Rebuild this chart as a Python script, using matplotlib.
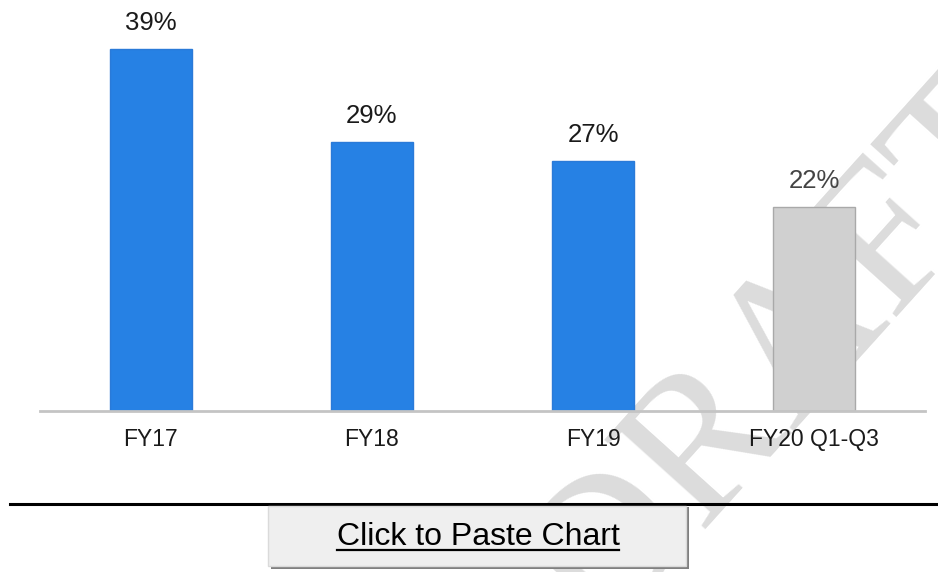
import matplotlib.pyplot as plt
from matplotlib.patches import Rectangle
from matplotlib.lines import Line2D

plt.rcParams["font.family"] = ["Liberation Sans", "DejaVu Sans"]

# 数据
categories = ["FY17", "FY18", "FY19", "FY20 Q1-Q3"]
values = [39, 29, 27, 22]
labels = ["39%", "29%", "27%", "22%"]
bar_colors = ["#2681e4", "#2681e4", "#2681e4", "#d0d0d0"]
edge_colors = ["#2a7ad8", "#2a7ad8", "#2a7ad8", "#a9a9a9"]
label_colors = ["#1a1a1a", "#1a1a1a", "#1a1a1a", "#444444"]

W, H = 938, 572
fig = plt.figure(figsize=(W / 100, H / 100), dpi=100)

# 水印
fig.text(600 / W, 1 - 640 / H, "DRAFT", family="Liberation Serif", fontsize=148,
         color="#dcdcdc", rotation=48, ha="left", va="baseline",
         rotation_mode="anchor", zorder=-1)

ax = fig.add_axes([40 / W, 1 - 411 / H, 885 / W, 411 / H])
ax.patch.set_visible(False)
x = list(range(len(categories)))
bars = ax.bar(x, values, width=0.37, color=bar_colors, edgecolor=edge_colors,
              linewidth=1, zorder=2)
for b, lab, c in zip(bars, labels, label_colors):
    ax.annotate(lab, (b.get_x() + b.get_width() / 2, b.get_height()),
                xytext=(0, 10), textcoords="offset points", ha="center",
                va="bottom", fontsize=18.5, color=c)

ax.set_xlim(-0.5, 3.5)
ax.set_ylim(0, 44.3)
ax.set_xticks(x)
ax.set_xticklabels(categories, fontsize=16.5, color="#1a1a1a")
ax.tick_params(axis="x", length=0, pad=12)
ax.set_yticks([])
for s in ["top", "right", "left"]:
    ax.spines[s].set_visible(False)
ax.spines["bottom"].set_color("#c4c4c4")
ax.spines["bottom"].set_linewidth(2)

# 分隔线
fig.add_artist(Line2D([10 / W, 1], [1 - 503.5 / H, 1 - 503.5 / H],
                      color="black", linewidth=2.2, zorder=5))

# 按钮
fig.add_artist(Rectangle((271 / W, 1 - 569 / H), 418 / W, 62 / H,
                         facecolor="#808080", edgecolor="none", zorder=5))
fig.add_artist(Rectangle((268 / W, 1 - 566 / H), 418 / W, 60 / H,
                         facecolor="#efefef", edgecolor="#dadada",
                         linewidth=1, zorder=6))
t = fig.text(478 / W, 1 - 537 / H, "Click to Paste Chart", fontsize=23,
             color="black", ha="center", va="center", zorder=7)
fig.canvas.draw()
bb = t.get_window_extent().transformed(fig.transFigure.inverted())
fig.add_artist(Line2D([bb.x0, bb.x1], [1 - 550 / H, 1 - 550 / H],
                      color="black", linewidth=1.6, zorder=7))

fig.savefig("out.png", dpi=100)
